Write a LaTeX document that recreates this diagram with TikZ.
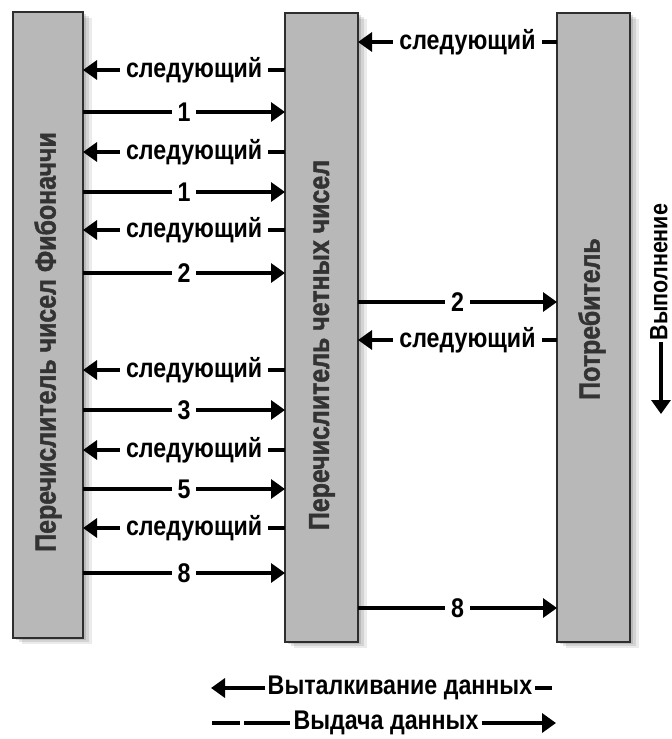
\documentclass[tikz,border=0pt]{standalone}
\usepackage{fontspec}
\setmainfont{Liberation Sans}
\newfontfamily\cond[FakeStretch=0.86]{Liberation Sans}
\newfontfamily\barfont[FakeStretch=0.86,FakeBold=1.5]{Liberation Sans Bold}
\usetikzlibrary{arrows.meta,shadows}
\begin{document}
\begin{tikzpicture}[x=1pt,y=-1pt,
  shad/.style={
    general shadow={fill=black, opacity=.12, shadow xshift=3pt, shadow yshift=-2pt},
    general shadow={fill=black, opacity=.10, shadow xshift=6pt, shadow yshift=-4pt},
    general shadow={fill=black, opacity=.08, shadow xshift=9pt, shadow yshift=-6pt}},
  bar/.style={shad, draw=black!82, line width=2.5pt, fill=black!28, anchor=north west,
    inner sep=0pt, outer sep=0pt},
  bartext/.style={rotate=90, font=\barfont\fontsize{29}{34}\selectfont, text=black!80},
  lbl/.style={fill=white, inner xsep=6pt, inner ysep=1pt, font=\cond\bfseries\fontsize{27}{32}\selectfont},
  tipshape/.style={-{Triangle[length=14pt,width=19pt]}},
  msg/.style={line width=3.2pt, tipshape},
  legline/.style={line width=3.5pt},
  legtext/.style={inner xsep=3pt, font=\cond\bfseries\fontsize{27}{32}\selectfont}]
\useasboundingbox (0,0) rectangle (672,739);

% bars
\node[bar, minimum width=70pt, minimum height=626pt] (fib) at (13,12) {};
\node[bar, minimum width=73pt, minimum height=629pt] (even) at (285,13) {};
\node[bar, minimum width=73pt, minimum height=629pt] (cons) at (557,13) {};

\node[bartext] (fibtxt) at (48,342) {Перечислитель чисел Фибоначчи};
\node[bartext] (eventxt) at (322,345) {Перечислитель четных чисел};
\node[bartext] (constxt) at (592,319) {Потребитель};

% left exchanges
\foreach \y in {70,152,230,370,450,528}
  \draw[msg] (even.west |- 0,\y) -- node[lbl,pos=.45]{следующий} (fib.east |- 0,\y);
\foreach \y/\n in {112/1,192/1,273/2,410/3,489/5,573/8}
  \draw[msg] (fib.east |- 0,\y) -- node[lbl]{\n} (even.west |- 0,\y);

% right exchanges
\foreach \y in {42,340}
  \draw[msg] (cons.west |- 0,\y) -- node[lbl,pos=.45]{следующий} (even.east |- 0,\y);
\foreach \y/\n in {302/2,608/8}
  \draw[msg] (even.east |- 0,\y) -- node[lbl]{\n} (cons.west |- 0,\y);

% execution direction
\node[rotate=90, inner sep=2pt, font=\cond\bfseries\fontsize{25}{30}\selectfont] (exec) at (659,272) {Выполнение};
\coordinate (execEnd) at (661,414);
\draw[msg] (exec.west -| execEnd) -- (execEnd);

% legend
\node[legtext] (push) at (400,688) {Выталкивание данных};
\coordinate (pushTip) at (211,688);
\coordinate (pushEnd) at (552,688);
\draw[legline, tipshape] (push.west) -- (pushTip);
\draw[legline] (push.east) -- (pushEnd);

\node[legtext] (pull) at (386,723) {Выдача данных};
\coordinate (pullStart) at (212,723);
\coordinate (pullTip) at (556,723);
\draw[legline, dash pattern=on 28pt off 4pt on 80pt] (pullStart) -- (pull.west);
\draw[legline, tipshape] (pull.east) -- (pullTip);
\end{tikzpicture}
\end{document}
